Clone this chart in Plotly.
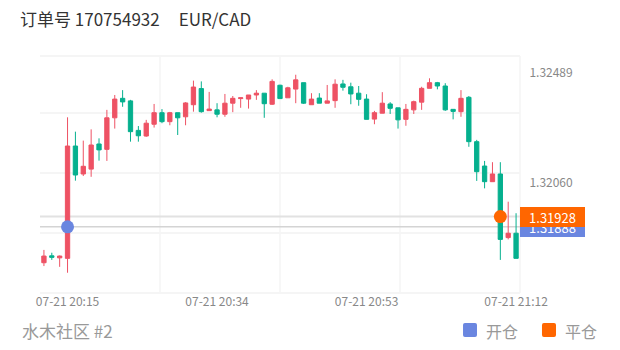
import plotly.graph_objects as go
import pandas as pd

# ---- data ----
times = [t.strftime("%m-%d %H:%M") for t in pd.date_range("2023-07-21 20:12", "2023-07-21 21:12", freq="1min")]

opens = [1.31748, 1.31775, 1.31767, 1.31765, 1.32203, 1.32094, 1.32113, 1.32211, 1.32190, 1.32313,
         1.32389, 1.32379, 1.32264, 1.32242, 1.32288, 1.32333, 1.32298, 1.32333, 1.32317, 1.32364,
         1.32427, 1.32341, 1.32344, 1.32327, 1.32370, 1.32388, 1.32386, 1.32402, 1.32409, 1.32366,
         1.32440, 1.32391, 1.32425, 1.32450, 1.32364, 1.32390, 1.32370, 1.32380, 1.32445, 1.32434,
         1.32409, 1.32386, 1.32308, 1.32331, 1.32367, 1.32352, 1.32307, 1.32344, 1.32374, 1.32428,
         1.32450, 1.32437, 1.32346, 1.32337, 1.32393, 1.32220, 1.32125, 1.32064, 1.32094, 1.31846,
         1.31863]
highs = [1.31798, 1.31787, 1.31776, 1.32315, 1.32259, 1.32224, 1.32268, 1.32233, 1.32344, 1.32402,
         1.32421, 1.32383, 1.32281, 1.32305, 1.32367, 1.32347, 1.32336, 1.32333, 1.32374, 1.32458,
         1.32455, 1.32414, 1.32370, 1.32406, 1.32398, 1.32391, 1.32402, 1.32421, 1.32409, 1.32463,
         1.32442, 1.32434, 1.32481, 1.32450, 1.32409, 1.32409, 1.32441, 1.32463, 1.32461, 1.32450,
         1.32437, 1.32405, 1.32340, 1.32413, 1.32374, 1.32352, 1.32367, 1.32380, 1.32434, 1.32467,
         1.32453, 1.32448, 1.32346, 1.32421, 1.32398, 1.32227, 1.32145, 1.32140, 1.32140, 1.31986,
         1.31941]
lows = [1.31735, 1.31759, 1.31732, 1.31709, 1.32068, 1.32086, 1.32083, 1.32146, 1.32145, 1.32271,
        1.32356, 1.32220, 1.32220, 1.32239, 1.32275, 1.32292, 1.32284, 1.32246, 1.32284, 1.32337,
        1.32333, 1.32341, 1.32315, 1.32317, 1.32335, 1.32352, 1.32349, 1.32383, 1.32313, 1.32363,
        1.32388, 1.32391, 1.32370, 1.32367, 1.32364, 1.32370, 1.32370, 1.32352, 1.32419, 1.32366,
        1.32360, 1.32307, 1.32288, 1.32331, 1.32328, 1.32271, 1.32282, 1.32328, 1.32344, 1.32428,
        1.32424, 1.32340, 1.32307, 1.32317, 1.32200, 1.32067, 1.32038, 1.32064, 1.31759, 1.31839,
        1.31765]
closes = [1.31774, 1.31769, 1.31774, 1.32203, 1.32090, 1.32124, 1.32207, 1.32188, 1.32313, 1.32386,
          1.32375, 1.32259, 1.32243, 1.32292, 1.32333, 1.32298, 1.32333, 1.32313, 1.32371, 1.32433,
          1.32337, 1.32347, 1.32327, 1.32370, 1.32389, 1.32391, 1.32402, 1.32409, 1.32368, 1.32455,
          1.32388, 1.32430, 1.32461, 1.32370, 1.32386, 1.32370, 1.32379, 1.32444, 1.32432, 1.32406,
          1.32385, 1.32307, 1.32333, 1.32370, 1.32350, 1.32305, 1.32346, 1.32376, 1.32428, 1.32450,
          1.32437, 1.32344, 1.32338, 1.32389, 1.32220, 1.32103, 1.32064, 1.32094, 1.31839, 1.31863,
          1.31765]

open_time = "07-21 20:15"
open_price = 1.31888
close_time = "07-21 21:10"
close_price = 1.31928

y_ticks = [1.32060, 1.32489]
y_ticktext = ["1.32060", "1.32489"]
x_ticks = ["07-21 20:15", "07-21 20:34", "07-21 20:53", "07-21 21:12"]
y_range = [1.31630, 1.32554]

title_text = "订单号 170754932&nbsp;&nbsp;&nbsp;&nbsp;&nbsp;EUR/CAD"
footer_text = "水木社区 #2"
legend_open = "开仓"
legend_close = "平仓"

RED = "#EE5264"
GREEN = "#05B08E"
BLUE = "#6A86E0"
ORANGE = "#FF6600"
CJK = "Noto Sans CJK SC, Noto Sans, sans-serif"

fig = go.Figure()
fig.add_trace(go.Candlestick(
    x=times, open=opens, high=highs, low=lows, close=closes,
    increasing=dict(line=dict(color=RED, width=1), fillcolor=RED),
    decreasing=dict(line=dict(color=GREEN, width=1), fillcolor=GREEN),
    whiskerwidth=0, showlegend=False, hoverinfo="skip",
))

shapes = []
for gy in [1.0, 0.759, 0.506, 0.253, 0.0]:
    shapes.append(dict(type="line", xref="paper", yref="paper", x0=0, x1=1, y0=gy, y1=gy,
                       line=dict(color="#F2F2F2", width=1.5), layer="below"))
for gx in [0.25, 0.5, 0.75, 1.0]:
    shapes.append(dict(type="line", xref="paper", yref="paper", x0=gx, x1=gx, y0=0, y1=1,
                       line=dict(color="#F4F4F4", width=1.5), layer="below"))
shapes.append(dict(type="line", xref="paper", yref="y", x0=0, x1=1, y0=close_price, y1=close_price,
                   line=dict(color="#E2E2E2", width=2), layer="below"))
shapes.append(dict(type="line", xref="paper", yref="y", x0=0, x1=1, y0=open_price, y1=open_price,
                   line=dict(color="#D4D4D4", width=1.5), layer="below"))
# legend squares (rounded)
def rounded_rect(x0, x1, y0, y1, r=0.004, ry=0.008):
    return (f"M{x0+r},{y0} L{x1-r},{y0} Q{x1},{y0} {x1},{y0+ry} L{x1},{y1-ry} Q{x1},{y1} {x1-r},{y1} "
            f"L{x0+r},{y1} Q{x0},{y1} {x0},{y1-ry} L{x0},{y0+ry} Q{x0},{y0} {x0+r},{y0} Z")
shapes.append(dict(type="path", xref="paper", yref="paper", path=rounded_rect(0.8813, 0.9104, -0.1857, -0.1266),
                   fillcolor=BLUE, line=dict(width=0)))
shapes.append(dict(type="path", xref="paper", yref="paper", path=rounded_rect(1.0458, 1.075, -0.1857, -0.1266),
                   fillcolor=ORANGE, line=dict(width=0)))

fig.add_trace(go.Scatter(x=[open_time], y=[open_price], mode="markers",
                         marker=dict(color=BLUE, size=13), showlegend=False, hoverinfo="skip"))
fig.add_trace(go.Scatter(x=[close_time], y=[close_price], mode="markers",
                         marker=dict(color=ORANGE, size=13), showlegend=False, hoverinfo="skip"))

annotations = [
    dict(x=1, xref="paper", y=open_price, yref="y", xanchor="left", yanchor="middle",
         text=f"{open_price:.5f}", showarrow=False, bgcolor=BLUE, width=65, height=20,
         borderpad=0, borderwidth=0, font=dict(color="white", size=13, family=CJK)),
    dict(x=1, xref="paper", y=close_price, yref="y", xanchor="left", yanchor="middle",
         text=f"{close_price:.5f}", showarrow=False, bgcolor=ORANGE, width=65, height=20,
         borderpad=0, borderwidth=0, font=dict(color="white", size=13, family=CJK)),
    dict(x=-0.0417, xref="paper", y=-0.160, yref="paper", xanchor="left", yanchor="middle",
         text=footer_text, showarrow=False, font=dict(color="#999999", size=17, family=CJK)),
    dict(x=0.925, xref="paper", y=-0.160, yref="paper", xanchor="left", yanchor="middle",
         text=legend_open, showarrow=False, font=dict(color="#999999", size=16, family=CJK)),
    dict(x=1.0896, xref="paper", y=-0.160, yref="paper", xanchor="left", yanchor="middle",
         text=legend_close, showarrow=False, font=dict(color="#999999", size=16, family=CJK)),
]

fig.update_layout(
    width=620, height=350,
    margin=dict(l=40, r=100, t=56, b=57),
    paper_bgcolor="white", plot_bgcolor="white",
    title=dict(text=title_text, x=20/620, y=1-20/350, xanchor="left", yanchor="middle",
               font=dict(size=17, color="#333333", family=CJK)),
    shapes=shapes, annotations=annotations,
    boxgap=0.22,
    showlegend=False,
    xaxis=dict(type="category", range=[-0.5, len(times) - 0.5], rangeslider=dict(visible=False),
               tickvals=x_ticks, ticktext=x_ticks, showgrid=False, zeroline=False, showline=False,
               tickfont=dict(size=12, color="#888888", family=CJK), ticks=""),
    yaxis=dict(side="right", range=y_range, tickvals=y_ticks, ticktext=y_ticktext,
               showgrid=False, zeroline=False, showline=False, ticks="outside", ticklen=6,
               tickcolor="rgba(0,0,0,0)", tickfont=dict(size=12, color="#888888", family=CJK)),
)

fig.write_html("out.html")
